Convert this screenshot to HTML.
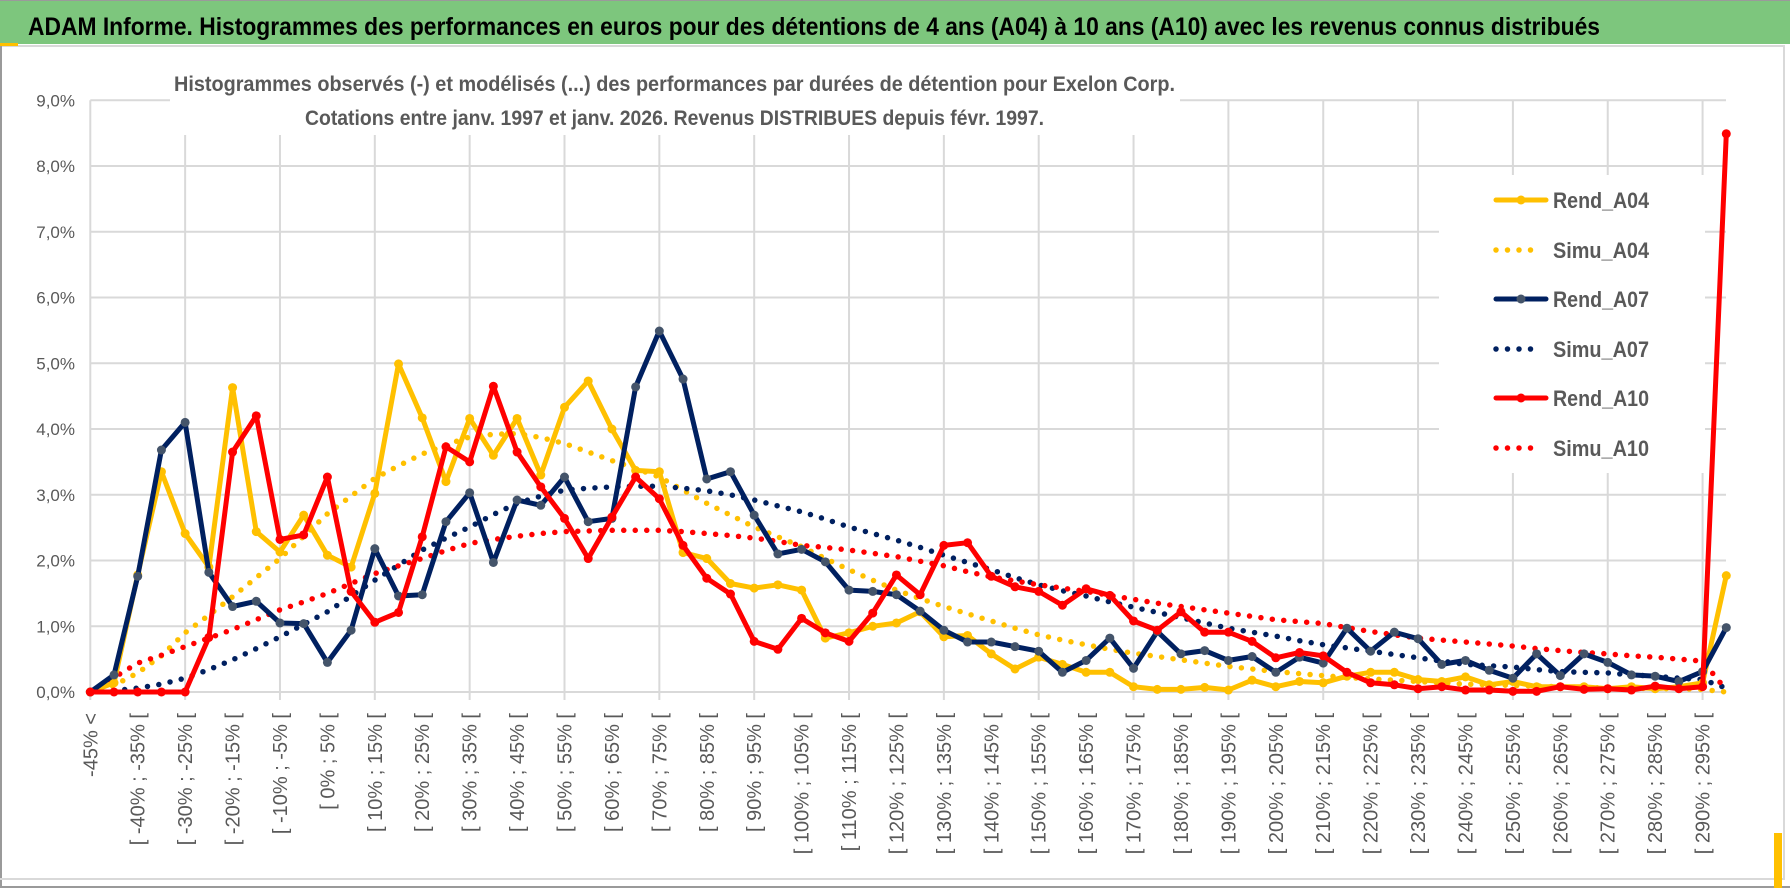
<!DOCTYPE html>
<html><head><meta charset="utf-8"><style>
html,body{margin:0;padding:0;background:#fff;}
svg{display:block;font-family:"Liberation Sans",sans-serif;}
</style></head><body>
<svg id="chart" width="1790" height="888" viewBox="0 0 1790 888" xmlns="http://www.w3.org/2000/svg">
<rect x="0" y="0" width="1790" height="888" fill="#fff"/>
<rect x="0" y="1" width="1790" height="43" fill="#7dc67d"/>
<line x1="0" y1="0.5" x2="1790" y2="0.5" stroke="#9a9a9a" stroke-width="1"/>
<line x1="0" y1="46" x2="1785" y2="46" stroke="#d9d9d9" stroke-width="2"/>
<rect x="0" y="43" width="18" height="3" fill="#ffc000"/>
<line x1="1" y1="46" x2="1" y2="888" stroke="#9a9a9a" stroke-width="2"/>
<line x1="0" y1="879" x2="1783" y2="879" stroke="#d9d9d9" stroke-width="2"/>
<line x1="0" y1="887" x2="1790" y2="887" stroke="#9a9a9a" stroke-width="2"/>
<line x1="1784" y1="46" x2="1784" y2="880" stroke="#d9d9d9" stroke-width="2"/>
<rect x="1774" y="833" width="8" height="55" fill="#ffc000"/>
<text x="28" y="35" font-size="25" font-weight="bold" fill="#000" textLength="1572" lengthAdjust="spacingAndGlyphs">ADAM Informe. Histogrammes des performances en euros pour des détentions de 4 ans (A04) à 10 ans (A10) avec les revenus connus distribués</text>
<g id="grid"></g>
<rect x="170" y="62" width="1010" height="73" fill="#fff"/>
<text x="174" y="91" font-size="21" font-weight="bold" fill="#595959" textLength="1001" lengthAdjust="spacingAndGlyphs">Histogrammes observés (-) et modélisés (...) des performances par durées de détention pour Exelon Corp.</text>
<text x="305" y="125" font-size="21" font-weight="bold" fill="#595959" textLength="739" lengthAdjust="spacingAndGlyphs">Cotations entre janv. 1997 et janv. 2026. Revenus DISTRIBUES depuis févr. 1997.</text>
<g id="yaxis"></g>
<g id="xaxis"></g>
<rect x="1439" y="175" width="266" height="298" fill="#fff"/>
<g id="series"></g>
<g id="legend"></g>
</svg>
<script>
const categories = (function(){const c=["-45% <"];for(let k=1;k<70;k++){const a=-45+5*(k-1);c.push("[ "+a+"% ; "+(a+5)+"% [");}return c;})();
const yTicks = [0,1,2,3,4,5,6,7,8,9];
const yTickLabels = ["0,0%","1,0%","2,0%","3,0%","4,0%","5,0%","6,0%","7,0%","8,0%","9,0%"];
const rendA04 = [0,0.14,1.78,3.35,2.41,1.9,4.63,2.44,2.13,2.69,2.08,1.9,3.02,4.99,4.17,3.2,4.16,3.6,4.16,3.3,4.33,4.73,4.0,3.37,3.35,2.12,2.03,1.65,1.58,1.63,1.55,0.82,0.9,1.0,1.05,1.22,0.84,0.86,0.58,0.35,0.53,0.42,0.3,0.3,0.08,0.04,0.04,0.07,0.03,0.18,0.08,0.16,0.14,0.24,0.3,0.3,0.19,0.16,0.23,0.11,0.16,0.08,0.08,0.08,0.05,0.08,0.05,0.08,0.14,1.77];
const rendA07 = [0,0.26,1.76,3.68,4.1,1.82,1.3,1.38,1.05,1.04,0.45,0.94,2.18,1.46,1.48,2.59,3.03,1.97,2.92,2.84,3.27,2.59,2.64,4.64,5.49,4.76,3.24,3.35,2.69,2.1,2.17,1.98,1.55,1.53,1.48,1.23,0.94,0.76,0.76,0.69,0.62,0.3,0.48,0.82,0.36,0.92,0.58,0.63,0.48,0.54,0.3,0.53,0.44,0.97,0.62,0.91,0.81,0.42,0.48,0.33,0.21,0.58,0.25,0.58,0.45,0.26,0.24,0.16,0.31,0.98];
const rendA10 = [0,0,0,0,0,0.83,3.65,4.2,2.32,2.39,3.27,1.53,1.06,1.21,2.36,3.73,3.5,4.65,3.65,3.12,2.64,2.03,2.66,3.27,2.94,2.23,1.73,1.49,0.77,0.65,1.12,0.9,0.77,1.2,1.78,1.48,2.23,2.27,1.76,1.6,1.53,1.32,1.57,1.47,1.08,0.94,1.22,0.91,0.91,0.77,0.52,0.6,0.55,0.3,0.14,0.11,0.05,0.08,0.03,0.03,0.01,0.01,0.08,0.04,0.05,0.03,0.09,0.05,0.08,8.49];
const simuA04 = [0,0.1,0.29,0.55,0.9,1.17,1.45,1.74,2.03,2.37,2.71,2.98,3.25,3.44,3.62,3.76,3.88,3.92,3.93,3.87,3.78,3.65,3.52,3.4,3.27,3.07,2.87,2.69,2.51,2.36,2.21,2.03,1.86,1.7,1.55,1.42,1.3,1.19,1.08,0.97,0.87,0.79,0.72,0.65,0.59,0.54,0.49,0.44,0.39,0.35,0.31,0.28,0.25,0.22,0.2,0.18,0.16,0.14,0.12,0.11,0.1,0.09,0.08,0.07,0.06,0.06,0.05,0.05,0.04,0.0];
const simuA07 = [0,0.02,0.06,0.12,0.21,0.34,0.49,0.66,0.84,1.03,1.22,1.46,1.7,1.93,2.16,2.34,2.51,2.7,2.87,2.98,3.07,3.1,3.12,3.13,3.13,3.1,3.06,3.0,2.92,2.83,2.74,2.63,2.51,2.41,2.31,2.2,2.08,1.97,1.86,1.74,1.63,1.54,1.46,1.37,1.29,1.21,1.13,1.05,0.97,0.91,0.85,0.78,0.72,0.67,0.62,0.57,0.52,0.47,0.42,0.4,0.38,0.34,0.31,0.3,0.29,0.26,0.24,0.21,0.19,0.06];
const simuA10 = [0,0.22,0.44,0.56,0.69,0.82,0.95,1.1,1.25,1.37,1.5,1.65,1.8,1.92,2.03,2.15,2.26,2.32,2.37,2.41,2.44,2.45,2.46,2.46,2.46,2.44,2.41,2.38,2.34,2.29,2.23,2.2,2.16,2.11,2.06,1.99,1.92,1.83,1.75,1.69,1.63,1.58,1.53,1.47,1.41,1.35,1.3,1.25,1.2,1.15,1.1,1.07,1.04,0.98,0.92,0.87,0.82,0.79,0.76,0.73,0.7,0.66,0.63,0.6,0.58,0.55,0.53,0.5,0.47,0.03];
const seriesNames = ["Rend_A04","Simu_A04","Rend_A07","Simu_A07","Rend_A10","Simu_A10"];

const NS="http://www.w3.org/2000/svg";
const X0=90.3, XSTEP=23.71, Y0=692, YUNIT=65.75, XEND=1726;
function xPos(i){return X0+i*XSTEP;}
function yPos(v){return Y0-v*YUNIT;}
function mk(tag,attrs,parent){const e=document.createElementNS(NS,tag);for(const k in attrs)e.setAttribute(k,attrs[k]);parent.appendChild(e);return e;}

const grid=document.getElementById('grid');
yTicks.forEach(function(t){
  const l=mk('line',{x1:X0,x2:XEND,y1:yPos(t),y2:yPos(t),stroke:'#d9d9d9','stroke-width':2},grid);
  
  
});
for(let i=0;i<categories.length;i+=4){
  const l=mk('line',{x1:xPos(i),x2:xPos(i),y1:yPos(9),y2:Y0+8,stroke:'#d9d9d9','stroke-width':2},grid);
  
  
}
const yax=document.getElementById('yaxis');
yTicks.forEach(function(t,i){
  const tx=mk('text',{x:75,y:yPos(t)+6,'font-size':17,fill:'#595959','text-anchor':'end'},yax);
  tx.textContent=yTickLabels[i];
  
  
});
const xax=document.getElementById('xaxis');
for(let i=0;i<categories.length-1;i+=2){
  const x=xPos(i)+7, y=713;
  const tx=mk('text',{x:x,y:y,'font-size':20,fill:'#595959','text-anchor':'end',transform:'rotate(-90 '+x+' '+y+')'},xax);
  tx.textContent=categories[i];
  
  
}
const sg=document.getElementById('series');
function pts(arr){return arr.map(function(v,i){return xPos(i).toFixed(1)+','+yPos(v).toFixed(1);}).join(' ');}
function dotted(arr,color,name){
  const p=mk('polyline',{points:pts(arr),fill:'none',stroke:color,'stroke-width':5.5,'stroke-linecap':'round','stroke-dasharray':'0 11.5'},sg);
  
  
}
function solid(arr,color,mcolor,name){
  const p=mk('polyline',{points:pts(arr),fill:'none',stroke:color,'stroke-width':5,'stroke-linejoin':'round'},sg);
  
  
  arr.forEach(function(v,i){
    const c=mk('circle',{cx:xPos(i),cy:yPos(v),r:4.5,fill:mcolor},sg);
    
    
  });
}
dotted(simuA04,'#ffc000','simu-a04-line');
dotted(simuA07,'#002060','simu-a07-line');
dotted(simuA10,'#ff0000','simu-a10-line');
solid(rendA04,'#ffc000','#ffc000','rend-a04-line');
solid(rendA07,'#002060','#44546a','rend-a07-line');
solid(rendA10,'#ff0000','#ff0000','rend-a10-line');

const lg=document.getElementById('legend');
const legColors=['#ffc000','#ffc000','#002060','#002060','#ff0000','#ff0000'];
const legY=[200,250,299,349,398,448];
seriesNames.forEach(function(n,i){
  const y=legY[i];
  if(i%2===0){
    mk('line',{x1:1496,x2:1546,y1:y,y2:y,stroke:legColors[i],'stroke-width':5,'stroke-linecap':'round'},lg);
    mk('circle',{cx:1521,cy:y,r:4.5,fill:i===2?'#44546a':legColors[i]},lg);
  } else {
    mk('line',{x1:1496,x2:1540,y1:y,y2:y,stroke:legColors[i],'stroke-width':5.5,'stroke-linecap':'round','stroke-dasharray':'0 11.5'},lg);
  }
  const t=mk('text',{x:1553,y:y+8,'font-size':22,'font-weight':'bold',fill:'#595959',textLength:96,lengthAdjust:'spacingAndGlyphs'},lg);
  t.textContent=n;
  
  
});
</script>
</body></html>
